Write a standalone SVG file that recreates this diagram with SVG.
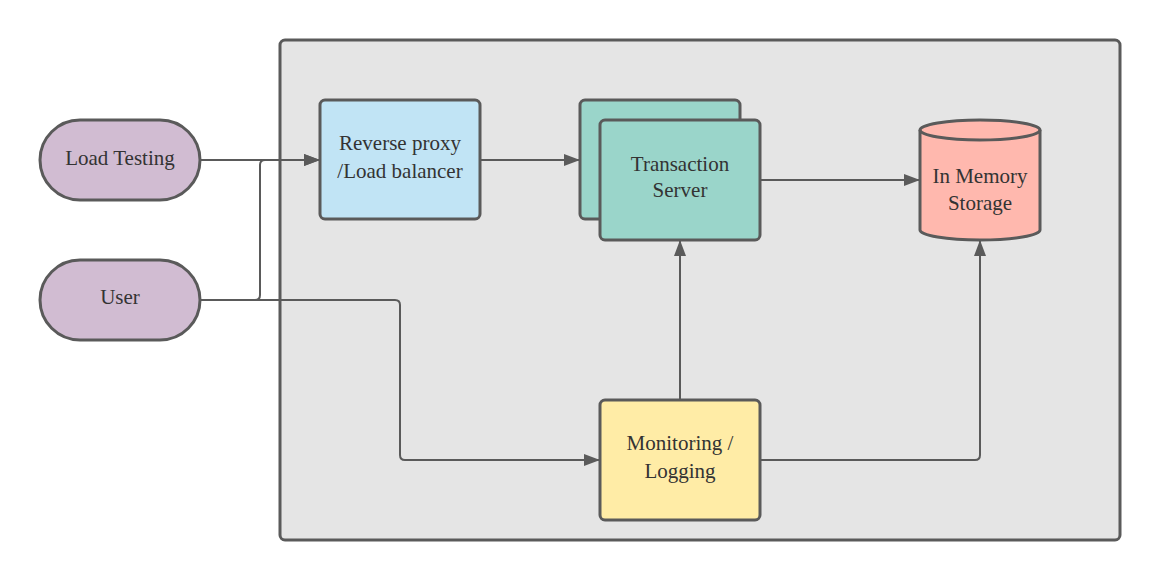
<svg xmlns="http://www.w3.org/2000/svg" width="1160" height="580" viewBox="0 0 1160 580">
<style>
.n{stroke:#5a5a5a;stroke-width:3}
.t{font-family:'Liberation Serif','Times New Roman',Times,serif;font-size:21px;fill:#333333;text-anchor:middle}
.c{fill:none;stroke:#5a5a5a;stroke-width:2}
</style>
<defs>
<marker id="ah" viewBox="0 0 16 12" refX="16" refY="6" markerWidth="16" markerHeight="12" markerUnits="userSpaceOnUse" orient="auto">
<path d="M0 0 L16 6 L0 12 Z" fill="#5a5a5a"/>
</marker>
</defs>
<rect width="1160" height="580" fill="#ffffff"/>
<g id="container"><rect class="n" x="280" y="40" width="840" height="500" rx="5" fill="#e5e5e5"/></g>
<g id="connectors">
<path class="c" d="M200 160 H320" marker-end="url(#ah)"/>
<path class="c" d="M200 300 H255 Q260 300 260 295 V165 Q260 160 265 160 H320" marker-end="url(#ah)"/>
<path class="c" d="M200 300 H395 Q400 300 400 305 V455 Q400 460 405 460 H600" marker-end="url(#ah)"/>
<path class="c" d="M480 160 H580" marker-end="url(#ah)"/>
<path class="c" d="M760 180 H920" marker-end="url(#ah)"/>
<path class="c" d="M680 400 V240" marker-end="url(#ah)"/>
<path class="c" d="M760 460 H975 Q980 460 980 455 V240" marker-end="url(#ah)"/>
</g>
<g id="load-testing"><rect class="n" x="40" y="120" width="160" height="80" rx="40" fill="#d1bcd2"/><text class="t" font-family="Liberation Serif" x="120" y="165">Load Testing</text></g>
<g id="user"><rect class="n" x="40" y="260" width="160" height="80" rx="40" fill="#d1bcd2"/><text class="t" x="120" y="304">User</text></g>
<g id="reverse-proxy"><rect class="n" x="320" y="100" width="160" height="119" rx="5" fill="#c1e4f5"/><text class="t" x="400" y="150">Reverse proxy</text><text class="t" x="400" y="178">/Load balancer</text></g>
<g id="transaction-server"><rect class="n" x="580" y="100" width="160" height="119" rx="5" fill="#9ad5ca"/><rect class="n" x="600" y="120" width="160" height="120" rx="5" fill="#9ad5ca"/><text class="t" x="680" y="171">Transaction</text><text class="t" x="680" y="197">Server</text></g>
<g id="storage"><path class="n" d="M920 130 A60 10 0 0 1 1040 130 V230 A60 10 0 0 1 920 230 Z" fill="#ffb8ae"/><path class="n" fill="none" d="M920 130 A60 10 0 0 0 1040 130"/><text class="t" x="980" y="183">In Memory</text><text class="t" x="980" y="210">Storage</text></g>
<g id="monitoring"><rect class="n" x="600" y="400" width="160" height="120" rx="5" fill="#ffeca6"/><text class="t" x="680" y="450">Monitoring /</text><text class="t" x="680" y="478">Logging</text></g>
</svg>
